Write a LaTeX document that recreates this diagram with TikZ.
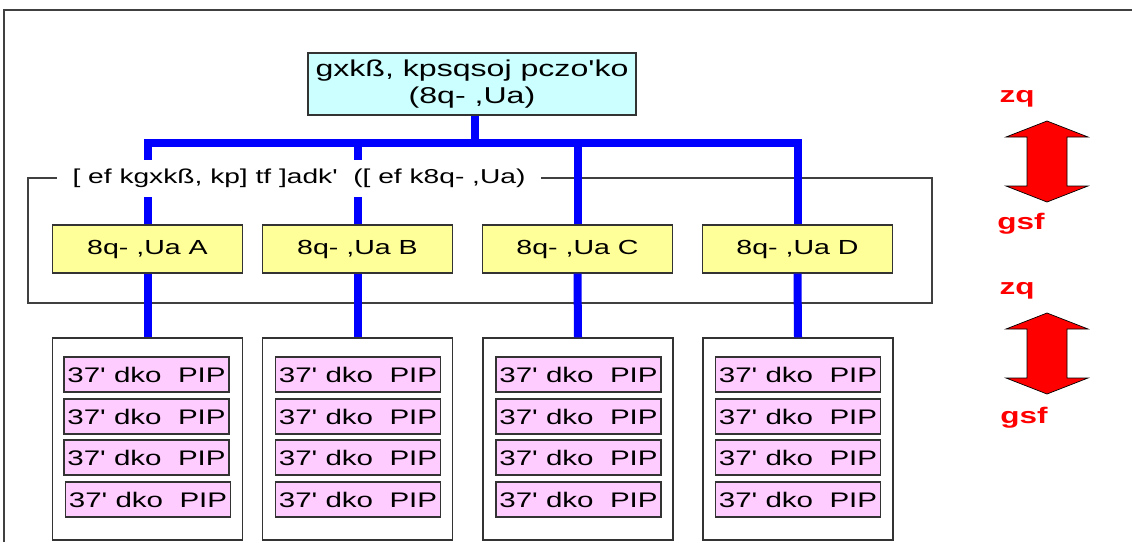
\documentclass[tikz,border=0pt]{standalone}
\usepackage{fontspec}
\setmainfont{Liberation Sans}
\newfontfamily\widesans[FakeStretch=1.4]{Liberation Sans}
\usetikzlibrary{positioning}
\definecolor{topcyan}{HTML}{CCFFFF}
\definecolor{unityellow}{HTML}{FFFF99}
\definecolor{pippink}{HTML}{FFCCFF}
\tikzset{
    frame/.style={draw=black!75, line width=1pt},
    bus/.style={draw=blue, line width=0.2cm},
    topbox/.style={draw=black!80, line width=1pt, fill=topcyan, align=center,
        minimum width=8.2cm, minimum height=1.55cm, inner sep=0pt,
        font=\widesans\fontsize{16.3}{19.5}\selectfont},
    unitbox/.style={draw=black!80, line width=1pt, fill=unityellow,
        minimum width=4.75cm, minimum height=1.2cm, inner sep=0pt,
        font=\widesans\fontsize{14.5}{18}\selectfont},
    rack/.style={draw=black!80, line width=1pt, fill=white,
        minimum width=4.75cm, minimum height=5.05cm},
    pip/.style={draw=black!80, line width=1pt, fill=pippink,
        minimum width=4.125cm, minimum height=0.875cm, inner sep=0pt,
        font=\widesans\fontsize{15}{17}\selectfont},
    grouplabel/.style={fill=white, minimum width=12.1cm, minimum height=0.925cm,
        inner sep=0pt, font=\widesans\fontsize{14.3}{18}\selectfont},
    updown/.style={draw=black, line width=0.5pt, fill=red},
    level/.style={text=red, inner sep=0pt,
        font=\widesans\bfseries\fontsize{16}{18}\selectfont},
}

\begin{document}
\begin{tikzpicture}[x=0.025cm, y=-0.025cm]
\useasboundingbox (0,0) rectangle (1132,542);
% outer frame, cut by the page edge
\draw[frame] (4,542) -- (4,10) -- (1132,10);
% group frame round the units
\draw[frame] (28,178) rectangle (932,303);
\node[topbox] (top) at (472,84) {gxkß, kpsqsoj pczo'ko\\(8q- ,Ua)};
\node[unitbox] (ya) at (147.5,249) {8q- ,Ua A};
\node[unitbox] (yb) at (357.5,249) {8q- ,Ua B};
\node[unitbox] (yc) at (577.5,249) {8q- ,Ua C};
\node[unitbox] (yd) at (797.5,249) {8q- ,Ua D};
\node[rack] (wa) at (147.5,439) {};
\node[rack] (wb) at (357.5,439) {};
\node[rack] (wc) at (578,439) {};
\node[rack] (wd) at (798,439) {};
% blue bus
\coordinate (busmid) at (475,143);
\draw[bus] (top.south -| busmid) -- (busmid);
\draw[bus] (ya.north) |- (busmid) -| (yd.north);
\draw[bus] (yb.north) -- (yb.north |- busmid);
\draw[bus] (yc.north) -- (yc.north |- busmid);
\draw[bus] (ya.south) -- (wa.north);
\draw[bus] (yb.south) -- (wb.north);
\draw[bus] (yc.south) -- (wc.north);
\draw[bus] (yd.south) -- (wd.north);
\node[grouplabel] (glabel) at (299,178) {[ ef kgxkß, kp] tf ]adk'~~([ ef k8q- ,Ua)};
% pip cards
\node[pip] (a1) at (146.5,374.5) {37' dko~ PIP};
\node[pip] (a2) at (146.5,416.5) {37' dko~ PIP};
\node[pip] (a3) at (146.5,457.5) {37' dko~ PIP};
\node[pip] (a4) at (148,499.5) {37' dko~ PIP};
\node[pip] (b1) at (358,374.5) {37' dko~ PIP};
\node[pip] (b2) at (358,416.5) {37' dko~ PIP};
\node[pip] (b3) at (358,457.5) {37' dko~ PIP};
\node[pip] (b4) at (358,499.5) {37' dko~ PIP};
\node[pip] (c1) at (578.5,374.5) {37' dko~ PIP};
\node[pip] (c2) at (578.5,416.5) {37' dko~ PIP};
\node[pip] (c3) at (578.5,457.5) {37' dko~ PIP};
\node[pip] (c4) at (578.5,499.5) {37' dko~ PIP};
\node[pip] (d1) at (798,374.5) {37' dko~ PIP};
\node[pip] (d2) at (798,416.5) {37' dko~ PIP};
\node[pip] (d3) at (798,457.5) {37' dko~ PIP};
\node[pip] (d4) at (798,499.5) {37' dko~ PIP};
% red up/down arrows
\draw[updown] (1047,121) -- (1088,137) -- (1067,137) -- (1067,186) -- (1088,186)
    -- (1047,202) -- (1006,186) -- (1027,186) -- (1027,137) -- (1006,137) -- cycle;
\draw[updown] (1047,313) -- (1088,329) -- (1067,329) -- (1067,378) -- (1088,378)
    -- (1047,394) -- (1006,378) -- (1027,378) -- (1027,329) -- (1006,329) -- cycle;
\node[level] (up1) at (1017,99) {zq};
\node[level] (down1) at (1021,224) {gsf};
\node[level] (up2) at (1017,291) {zq};
\node[level] (down2) at (1024,418) {gsf};
\end{tikzpicture}
\end{document}
